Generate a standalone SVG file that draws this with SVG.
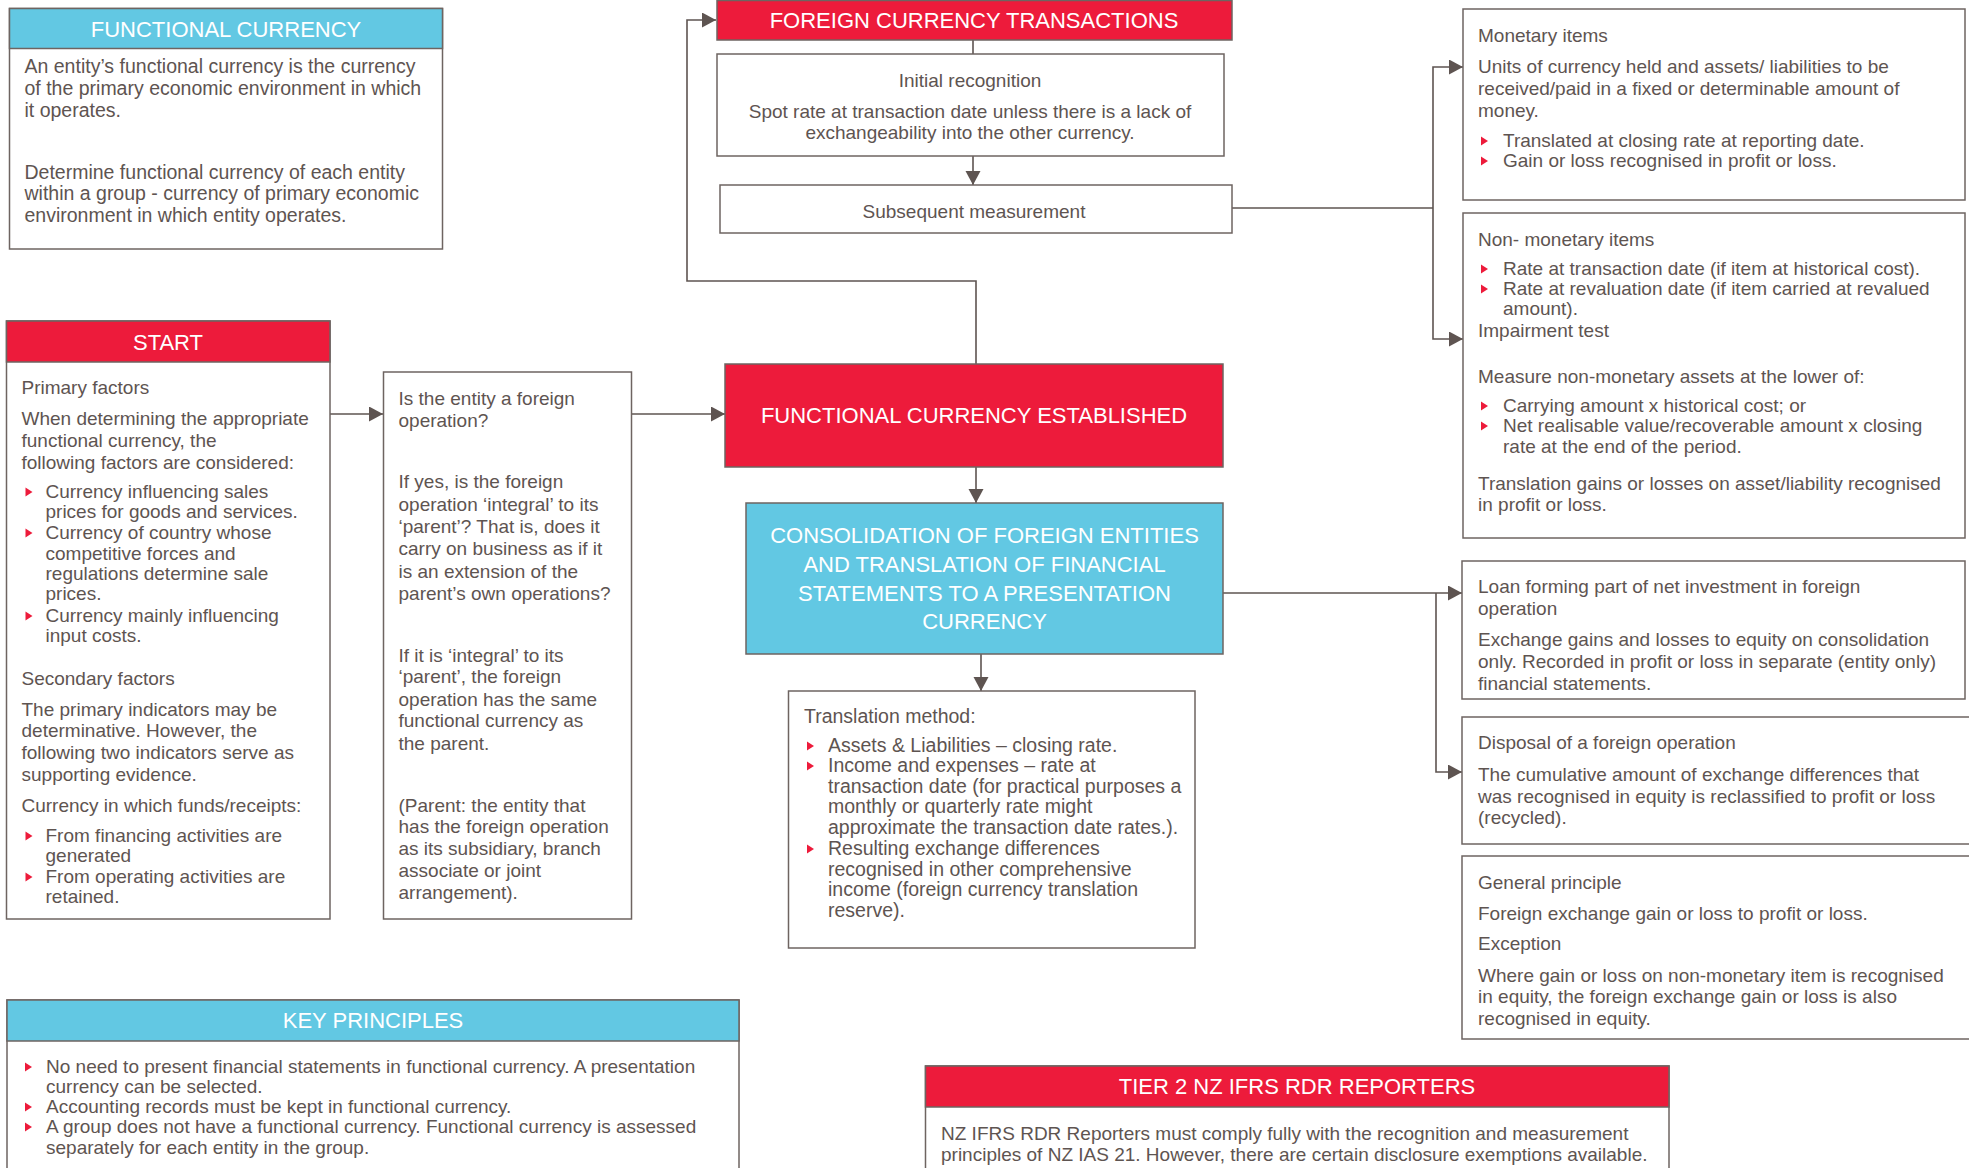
<svg xmlns="http://www.w3.org/2000/svg" width="1969" height="1168" viewBox="0 0 1969 1168">
<style>
text{font-family:"Liberation Sans",Arial,sans-serif;}
.t{font-size:19px;fill:#5e5451;}
.t2{font-size:19.5px;fill:#5e5451;}
.tc{font-size:19px;fill:#5e5451;text-anchor:middle;}
.h{font-size:22px;fill:#ffffff;text-anchor:middle;}
.box{fill:#ffffff;stroke:#6e6461;stroke-width:1.5;}
.red{fill:#ed1b3b;stroke:#6e6461;stroke-width:1.5;}
.cyan{fill:#62c8e3;stroke:#6e6461;stroke-width:1.5;}
.cn{fill:none;stroke:#5e5451;stroke-width:1.6;}
.bl{fill:#ed1b3b;}
</style>
<defs>
<marker id="ar" markerUnits="userSpaceOnUse" markerWidth="15" markerHeight="16" refX="14" refY="7.5" orient="auto">
<path d="M0,0 L14,7.5 L0,15 z" fill="#5e5451"/>
</marker>
<path id="b" d="M0,-4.5 L7,0 L0,4.5 z"/>
</defs>

<g id="connectors">
<path class="cn" d="M976,364 V281 H687 V20 H716" marker-end="url(#ar)"/>
<path class="cn" d="M973,40 V69" marker-end="url(#ar)"/>
<path class="cn" d="M973,156 V185" marker-end="url(#ar)"/>
<path class="cn" d="M1232,208 H1433"/>
<path class="cn" d="M1433,208 V67 H1463" marker-end="url(#ar)"/>
<path class="cn" d="M1433,208 V339 H1463" marker-end="url(#ar)"/>
<path class="cn" d="M330,414 H383" marker-end="url(#ar)"/>
<path class="cn" d="M631,414 H725" marker-end="url(#ar)"/>
<path class="cn" d="M976,467 V503" marker-end="url(#ar)"/>
<path class="cn" d="M981,654 V691" marker-end="url(#ar)"/>
<path class="cn" d="M1223,593 H1462" marker-end="url(#ar)"/>
<path class="cn" d="M1436,593 V772 H1462" marker-end="url(#ar)"/>
</g>

<g id="functional-currency">
<rect class="box" x="9.5" y="8.5" width="433" height="240.5"/>
<rect class="cyan" x="9.5" y="8.5" width="433" height="40"/>
<text class="h" x="226" y="36.5">FUNCTIONAL CURRENCY</text>
<text class="t2"><tspan x="24.5" y="73">An entity’s functional currency is the currency</tspan><tspan x="24.5" y="95">of the primary economic environment in which</tspan><tspan x="24.5" y="117">it operates.</tspan><tspan x="24.5" y="179">Determine functional currency of each entity</tspan><tspan x="24.5" y="200">within a group - currency of primary economic</tspan><tspan x="24.5" y="222">environment in which entity operates.</tspan></text>
</g>

<g id="start">
<rect class="box" x="6.5" y="321" width="323.5" height="598"/>
<rect class="red" x="6.5" y="321" width="323.5" height="41"/>
<text class="h" x="168" y="349.5">START</text>
<text class="t"><tspan x="21.5" y="394">Primary factors</tspan><tspan x="21.5" y="425">When determining the appropriate</tspan><tspan x="21.5" y="447">functional currency, the</tspan><tspan x="21.5" y="469">following factors are considered:</tspan><tspan x="45.5" y="498">Currency influencing sales</tspan><tspan x="45.5" y="518">prices for goods and services.</tspan><tspan x="45.5" y="539">Currency of country whose</tspan><tspan x="45.5" y="560">competitive forces and</tspan><tspan x="45.5" y="580">regulations determine sale</tspan><tspan x="45.5" y="600">prices.</tspan><tspan x="45.5" y="622">Currency mainly influencing</tspan><tspan x="45.5" y="642">input costs.</tspan><tspan x="21.5" y="685">Secondary factors</tspan><tspan x="21.5" y="716">The primary indicators may be</tspan><tspan x="21.5" y="737">determinative. However, the</tspan><tspan x="21.5" y="759">following two indicators serve as</tspan><tspan x="21.5" y="781">supporting evidence.</tspan><tspan x="21.5" y="812">Currency in which funds/receipts:</tspan><tspan x="45.5" y="842">From financing activities are</tspan><tspan x="45.5" y="862">generated</tspan><tspan x="45.5" y="883">From operating activities are</tspan><tspan x="45.5" y="903">retained.</tspan></text>
<use href="#b" class="bl" x="25.5" y="492"/>
<use href="#b" class="bl" x="25.5" y="533"/>
<use href="#b" class="bl" x="25.5" y="616"/>
<use href="#b" class="bl" x="25.5" y="836"/>
<use href="#b" class="bl" x="25.5" y="877"/>
</g>

<g id="foreign-operation-question">
<rect class="box" x="383.5" y="372" width="248" height="547"/>
<text class="t"><tspan x="398.5" y="405">Is the entity a foreign</tspan><tspan x="398.5" y="427">operation?</tspan><tspan x="398.5" y="488">If yes, is the foreign</tspan><tspan x="398.5" y="511">operation ‘integral’ to its</tspan><tspan x="398.5" y="533">‘parent’?  That is, does it</tspan><tspan x="398.5" y="555">carry on business as if it</tspan><tspan x="398.5" y="578">is an extension of the</tspan><tspan x="398.5" y="600">parent’s own operations?</tspan><tspan x="398.5" y="662">If it is ‘integral’ to its</tspan><tspan x="398.5" y="683">‘parent’, the foreign</tspan><tspan x="398.5" y="706">operation has the same</tspan><tspan x="398.5" y="727">functional currency as</tspan><tspan x="398.5" y="750">the parent.</tspan><tspan x="398.5" y="812">(Parent: the entity that</tspan><tspan x="398.5" y="833">has the foreign operation</tspan><tspan x="398.5" y="855">as its subsidiary, branch</tspan><tspan x="398.5" y="877">associate or joint</tspan><tspan x="398.5" y="899">arrangement).</tspan></text>
</g>

<g id="foreign-currency-transactions">
<rect class="red" x="717" y="0.5" width="515" height="39.5"/>
<text class="h" x="974" y="28">FOREIGN CURRENCY TRANSACTIONS</text>
</g>

<g id="initial-recognition">
<rect class="box" x="717" y="54" width="507" height="102"/>
<text class="tc"><tspan x="970" y="87">Initial recognition</tspan><tspan x="970" y="118">Spot rate at transaction date unless there is a lack of</tspan><tspan x="970" y="139">exchangeability into the other currency.</tspan></text>
</g>

<g id="subsequent-measurement">
<rect class="box" x="720" y="185" width="512" height="48"/>
<text class="tc" x="974" y="218">Subsequent measurement</text>
</g>

<g id="functional-currency-established">
<rect class="red" x="725" y="364" width="498" height="103"/>
<text class="h" x="974" y="423">FUNCTIONAL CURRENCY ESTABLISHED</text>
</g>

<g id="consolidation">
<rect class="cyan" x="746" y="503" width="477" height="151"/>
<text class="h"><tspan x="984.5" y="543">CONSOLIDATION OF FOREIGN ENTITIES</tspan><tspan x="984.5" y="572">AND TRANSLATION OF FINANCIAL</tspan><tspan x="984.5" y="601">STATEMENTS TO A PRESENTATION</tspan><tspan x="984.5" y="629">CURRENCY</tspan></text>
</g>

<g id="translation-method">
<rect class="box" x="788.5" y="691" width="406.5" height="257"/>
<text class="t2"><tspan x="804" y="723">Translation method:</tspan><tspan x="828" y="752">Assets &amp; Liabilities – closing rate.</tspan><tspan x="828" y="772">Income and expenses – rate at</tspan><tspan x="828" y="793">transaction date (for practical purposes a</tspan><tspan x="828" y="813">monthly or quarterly rate might</tspan><tspan x="828" y="834">approximate the transaction date rates.).</tspan><tspan x="828" y="855">Resulting exchange differences</tspan><tspan x="828" y="876">recognised in other comprehensive</tspan><tspan x="828" y="896">income (foreign currency translation</tspan><tspan x="828" y="917">reserve).</tspan></text>
<use href="#b" class="bl" x="807" y="746"/>
<use href="#b" class="bl" x="807" y="766"/>
<use href="#b" class="bl" x="807" y="849"/>
</g>

<g id="monetary-items">
<rect class="box" x="1463" y="9" width="502" height="191"/>
<text class="t"><tspan x="1478" y="42">Monetary items</tspan><tspan x="1478" y="73">Units of currency held and assets/ liabilities to be</tspan><tspan x="1478" y="95">received/paid in a fixed or determinable amount of</tspan><tspan x="1478" y="117">money.</tspan><tspan x="1503" y="147">Translated at closing rate at reporting date.</tspan><tspan x="1503" y="167">Gain or loss recognised in profit or loss.</tspan></text>
<use href="#b" class="bl" x="1481" y="141"/>
<use href="#b" class="bl" x="1481" y="161"/>
</g>

<g id="non-monetary-items">
<rect class="box" x="1463" y="213" width="502" height="325"/>
<text class="t"><tspan x="1478" y="246">Non- monetary items</tspan><tspan x="1503" y="275">Rate at transaction date (if item at historical cost).</tspan><tspan x="1503" y="295">Rate at revaluation date (if item carried at revalued</tspan><tspan x="1503" y="315">amount).</tspan><tspan x="1478" y="337">Impairment test</tspan><tspan x="1478" y="383">Measure non-monetary assets at the lower of:</tspan><tspan x="1503" y="412">Carrying amount x historical cost; or</tspan><tspan x="1503" y="432">Net realisable value/recoverable amount x closing</tspan><tspan x="1503" y="453">rate at the end of the period.</tspan><tspan x="1478" y="490">Translation gains or losses on asset/liability recognised</tspan><tspan x="1478" y="511">in profit or loss.</tspan></text>
<use href="#b" class="bl" x="1481" y="269"/>
<use href="#b" class="bl" x="1481" y="289"/>
<use href="#b" class="bl" x="1481" y="406"/>
<use href="#b" class="bl" x="1481" y="426"/>
</g>

<g id="loan-net-investment">
<rect class="box" x="1462" y="561" width="503" height="138"/>
<text class="t"><tspan x="1478" y="593">Loan forming part of net investment in foreign</tspan><tspan x="1478" y="615">operation</tspan><tspan x="1478" y="646">Exchange gains and losses to equity on consolidation</tspan><tspan x="1478" y="668">only. Recorded in profit or loss in separate (entity only)</tspan><tspan x="1478" y="690">financial statements.</tspan></text>
</g>

<g id="disposal">
<rect class="box" x="1462" y="717" width="512" height="127"/>
<text class="t"><tspan x="1478" y="749">Disposal of a foreign operation</tspan><tspan x="1478" y="781">The cumulative amount of exchange differences that</tspan><tspan x="1478" y="803">was recognised in equity is reclassified to profit or loss</tspan><tspan x="1478" y="824">(recycled).</tspan></text>
</g>

<g id="general-principle">
<rect class="box" x="1462" y="856" width="512" height="183"/>
<text class="t"><tspan x="1478" y="889">General principle</tspan><tspan x="1478" y="920">Foreign exchange gain or loss to profit or loss.</tspan><tspan x="1478" y="950">Exception</tspan><tspan x="1478" y="982">Where gain or loss on non-monetary item is recognised</tspan><tspan x="1478" y="1003">in equity, the foreign exchange gain or loss  is also</tspan><tspan x="1478" y="1025">recognised in equity.</tspan></text>
</g>

<g id="key-principles">
<rect class="box" x="7" y="1000" width="732" height="180"/>
<rect class="cyan" x="7" y="1000" width="732" height="41"/>
<text class="h" x="373" y="1028">KEY PRINCIPLES</text>
<text class="t"><tspan x="46" y="1073">No need to present financial statements in functional currency.  A presentation</tspan><tspan x="46" y="1093">currency can be selected.</tspan><tspan x="46" y="1113">Accounting records must be kept in functional currency.</tspan><tspan x="46" y="1133">A group does not have a functional currency.  Functional currency is assessed</tspan><tspan x="46" y="1154">separately for each entity in the group.</tspan></text>
<use href="#b" class="bl" x="25" y="1067"/>
<use href="#b" class="bl" x="25" y="1107"/>
<use href="#b" class="bl" x="25" y="1127"/>
</g>

<g id="tier-2">
<rect class="box" x="925.5" y="1066" width="743.5" height="114"/>
<rect class="red" x="925.5" y="1066" width="743.5" height="41"/>
<text class="h" x="1297" y="1094">TIER 2 NZ IFRS RDR REPORTERS</text>
<text class="t"><tspan x="941" y="1140">NZ IFRS RDR Reporters must comply fully with the recognition and measurement</tspan><tspan x="941" y="1161">principles of NZ IAS 21. However, there are certain disclosure exemptions available.</tspan></text>
</g>
</svg>
